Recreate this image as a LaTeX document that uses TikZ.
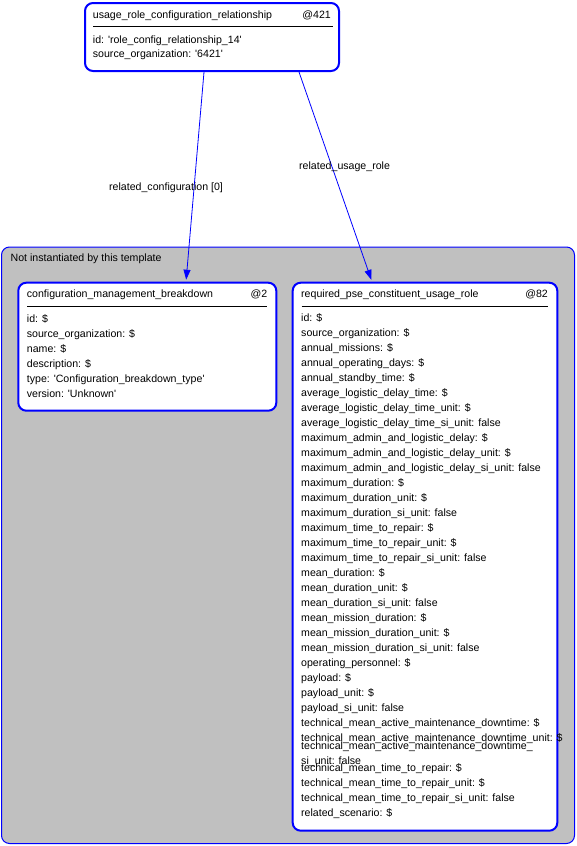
\documentclass[tikz,border=0pt]{standalone}
\usepackage{fontspec}
\newfontfamily\arialf{Liberation Sans}
\usetikzlibrary{arrows.meta}
\definecolor{nodeblue}{RGB}{0,0,255}
\definecolor{clgray}{RGB}{192,192,192}
\begin{document}
\begin{tikzpicture}[x=1pt,y=-1pt,
  txt/.style={font=\arialf\fontsize{10.6}{12}\selectfont, inner sep=0pt, anchor=base west},
  txtr/.style={txt, anchor=base east},
  box/.style={draw=nodeblue, line width=2pt, rounded corners=8pt, fill=white, inner sep=0pt},
  cluster/.style={draw=nodeblue, line width=1pt, rounded corners=8pt, fill=clgray, inner sep=0pt},
  sepline/.style={line width=1pt},
  edge/.style={draw=nodeblue, line width=0.8pt, -{Triangle[length=10pt,width=7pt]}, shorten >=2pt}]
\useasboundingbox (0,0) rectangle (576,846);
% cluster
\node[cluster, minimum width=573pt, minimum height=596.5pt] (cl) at (288,545.25) {};
\node[txt] (cllabel) at (10.5,261) {Not instantiated by this template};
% boxes
\node[box, minimum width=254pt, minimum height=68pt] (top) at (212,37) {};
\node[box, minimum width=258pt, minimum height=128pt] (cmb) at (147.3,346.7) {};
\node[box, minimum width=264.6pt, minimum height=548pt] (req) at (425,556.7) {};
% top box text
\node[txt] (toptitle) at (92.7,18) {usage\_role\_configuration\_relationship};
\node[txtr] (topid) at (331,18) {@421};
\coordinate (tsa) at (93,26); \coordinate (tsb) at (333,26);
\draw[sepline] (tsa) -- (tsb);
\node[txt] (t0) at (92.7,43.3) {id: 'role\_config\_relationship\_14'};
\node[txt] (t1) at (92.7,57.3) {source\_organization: '6421'};
% left box text
\node[txt] (cmbtitle) at (26.7,297.3) {configuration\_management\_breakdown};
\node[txtr] (cmbid) at (267.5,297.3) {@2};
\coordinate (csa) at (27.3,306.5); \coordinate (csb) at (267.3,306.5);
\draw[sepline] (csa) -- (csb);
\foreach \t [count=\i from 0] in {id: \$, source\_organization: \$, name: \$, description: \$, type: 'Configuration\_breakdown\_type', version: 'Unknown'}
  {\node[txt] (c\i) at (26.7,322.3+15*\i) {\t};}
% right box text
\node[txt] (reqtitle) at (301,297.8) {required\_pse\_constituent\_usage\_role};
\node[txtr] (reqid) at (548,297.8) {@82};
\coordinate (rsa) at (301.7,306.3); \coordinate (rsb) at (548.3,306.3);
\draw[sepline] (rsa) -- (rsb);
\foreach \t [count=\i from 0] in {id: \$, source\_organization: \$, annual\_missions: \$, annual\_operating\_days: \$, annual\_standby\_time: \$, average\_logistic\_delay\_time: \$, average\_logistic\_delay\_time\_unit: \$, average\_logistic\_delay\_time\_si\_unit: false, maximum\_admin\_and\_logistic\_delay: \$, maximum\_admin\_and\_logistic\_delay\_unit: \$, maximum\_admin\_and\_logistic\_delay\_si\_unit: false, maximum\_duration: \$, maximum\_duration\_unit: \$, maximum\_duration\_si\_unit: false, maximum\_time\_to\_repair: \$, maximum\_time\_to\_repair\_unit: \$, maximum\_time\_to\_repair\_si\_unit: false, mean\_duration: \$, mean\_duration\_unit: \$, mean\_duration\_si\_unit: false, mean\_mission\_duration: \$, mean\_mission\_duration\_unit: \$, mean\_mission\_duration\_si\_unit: false, operating\_personnel: \$, payload: \$, payload\_unit: \$, payload\_si\_unit: false, technical\_mean\_active\_maintenance\_downtime: \$, technical\_mean\_active\_maintenance\_downtime\_unit: \$}
  {\node[txt] (r\i) at (301,321.7+15*\i) {\t};}
\node[txt] (rsplita) at (301,749) {technical\_mean\_active\_maintenance\_downtime\_};
\node[txt] (rsplitb) at (301,764) {si\_unit: false};
\foreach \t [count=\i from 30] in {technical\_mean\_time\_to\_repair: \$, technical\_mean\_time\_to\_repair\_unit: \$, technical\_mean\_time\_to\_repair\_si\_unit: false, related\_scenario: \$}
  {\node[txt] (r\i) at (301,321.7+15*\i) {\t};}
% edges
\draw[edge] ([xshift=-8pt]top.south) -- ([xshift=38.7pt]cmb.north);
\draw[edge] ([xshift=87pt]top.south) -- ([xshift=-53pt]req.north);
\node[txt] (lab1) at (109,190.7) {related\_configuration [0]};
\node[txt] (lab2) at (299,169) {related\_usage\_role};
\end{tikzpicture}
\end{document}
